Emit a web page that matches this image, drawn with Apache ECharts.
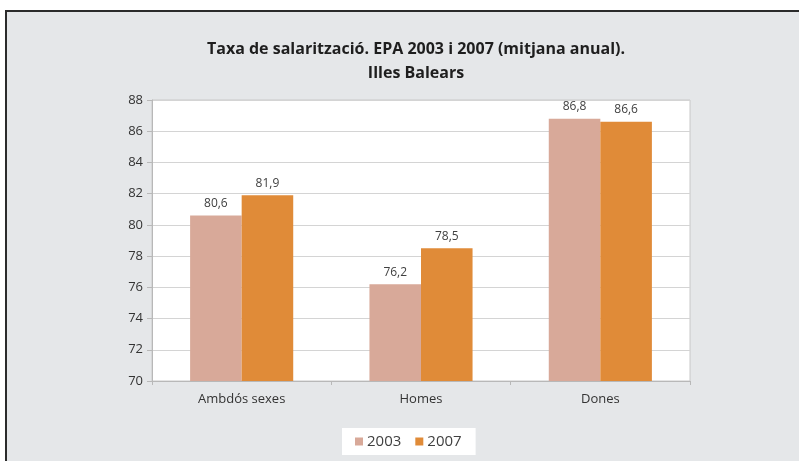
<!DOCTYPE html>
<html>
<head>
<meta charset="utf-8">
<script src="https://cdn.jsdelivr.net/npm/echarts@6/dist/echarts.min.js"></script>
<style>
  html, body { margin: 0; padding: 0; background: #ffffff; width: 799px; height: 461px; overflow: hidden; }
  #frame { position: absolute; left: 5px; top: 10px; width: 820px; height: 480px; background: #e5e7e9; border-left: 2px solid #2b2b2b; border-top: 2px solid #2b2b2b; }
  #chart { position: absolute; left: 0; top: 0; width: 799px; height: 461px; }
</style>
</head>
<body>
<div id="frame"></div>
<div id="chart"></div>
<script>
const categories = ['Ambdós sexes', 'Homes', 'Dones'];
const seriesNames = ['2003', '2007'];
const values2003 = [80.6, 76.2, 86.8];
const values2007 = [81.9, 78.5, 86.6];
const titleLines = ['Taxa de salarització. EPA 2003 i 2007 (mitjana anual).', 'Illes Balears'];

const FONT = 'Open Sans';
const chart = echarts.init(document.getElementById('chart'), null, { renderer: 'canvas' });
const fmt = p => p.value.toFixed(1).replace('.', ',');
chart.setOption({
  backgroundColor: 'transparent',
  animation: false,
  title: {
    text: titleLines.join('\n'),
    left: 411,
    top: 32,
    textAlign: 'center',
    textStyle: { fontFamily: FONT, fontWeight: 'bold', fontSize: 16, color: '#1e1e1e', lineHeight: 24 }
  },
  legend: {
    data: seriesNames,
    left: 342,
    top: 428,
    backgroundColor: '#ffffff',
    padding: [6, 14, 6, 13],
    itemWidth: 8,
    itemHeight: 8,
    itemGap: 14,
    icon: 'rect',
    textStyle: { fontFamily: FONT, fontSize: 15, color: '#404040', padding: [0, 0, 0, -1] }
  },
  grid: {
    left: 152, right: 109, top: 100, bottom: 80,
    show: true, backgroundColor: '#ffffff', borderColor: '#c8c8c8', borderWidth: 1
  },
  xAxis: {
    type: 'category',
    data: categories,
    axisLine: { lineStyle: { color: '#b8b8b8' } },
    axisTick: { show: true, length: 4, lineStyle: { color: '#b8b8b8' } },
    axisLabel: { fontFamily: FONT, fontSize: 13, color: '#333', margin: 12 }
  },
  yAxis: {
    type: 'value',
    min: 70, max: 88, interval: 2,
    axisLine: { show: true, lineStyle: { color: '#b8b8b8' } },
    axisTick: { show: true, length: 5, lineStyle: { color: '#b8b8b8' } },
    axisLabel: { fontFamily: FONT, fontSize: 13, color: '#333', margin: 9 },
    splitLine: { lineStyle: { color: '#d4d4d4' } }
  },
  series: [
    {
      name: seriesNames[0], type: 'bar', data: values2003,
      barGap: '0%', barCategoryGap: '42.5%',
      itemStyle: { color: '#d8a999' },
      label: { show: true, position: 'top', distance: 6, formatter: fmt, fontFamily: FONT, fontSize: 12, color: '#404040' }
    },
    {
      name: seriesNames[1], type: 'bar', data: values2007,
      barGap: '0%', barCategoryGap: '42.5%',
      itemStyle: { color: '#e08b38' },
      label: { show: true, position: 'top', distance: 6, formatter: fmt, fontFamily: FONT, fontSize: 12, color: '#404040' }
    }
  ]
});
</script>
</body>
</html>
